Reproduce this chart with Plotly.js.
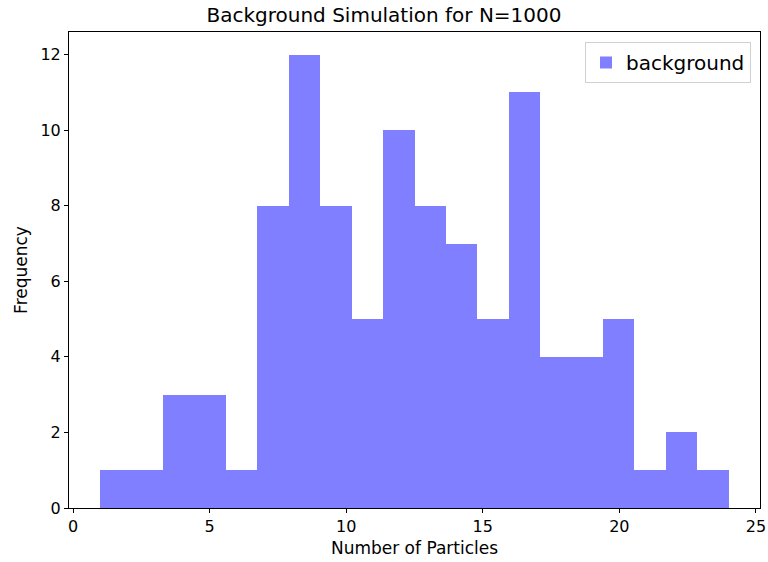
<!DOCTYPE html>
<html>
<head>
<meta charset="utf-8">
<script src="https://cdn.plot.ly/plotly-3.0.1.min.js"></script>
<style>html,body{margin:0;padding:0;background:#fff}#chart{width:768px;height:562px}</style>
</head>
<body>
<div id="chart"></div>
<script>
const binEdges = [1, 2.15, 3.3, 4.45, 5.6, 6.75, 7.9, 9.05, 10.2, 11.35, 12.5, 13.65, 14.8, 15.95, 17.1, 18.25, 19.4, 20.55, 21.7, 22.85, 24];
const counts = [1, 1, 3, 3, 1, 8, 12, 8, 5, 10, 8, 7, 5, 11, 4, 4, 5, 1, 2, 1];
const seriesName = "background";

const centers = counts.map((_, i) => (binEdges[i] + binEdges[i + 1]) / 2);
const widths = counts.map((_, i) => binEdges[i + 1] - binEdges[i]);

const font = "DejaVu Sans, sans-serif";
const trace = {
  type: "bar",
  x: centers,
  y: counts,
  width: widths,
  name: seriesName,
  showlegend: true,
  marker: { color: "rgba(0,0,255,0.5)", line: { color: "rgba(0,0,255,0.5)", width: 0 } },
  hoverinfo: "x+y"
};

const layout = {
  width: 768, height: 562,
  margin: { l: 69, r: 8, t: 32, b: 54 },
  paper_bgcolor: "#fff", plot_bgcolor: "#fff",
  font: { family: font, size: 16, color: "#000" },
  title: { text: "Background Simulation for N=1000", font: { family: font, size: 20, color: "#000" }, x: 0.5, xanchor: "center", y: 0.973, yanchor: "middle" },
  bargap: 0,
  xaxis: {
    range: [-0.15, 25.15], tickmode: "linear", tick0: 0, dtick: 5,
    showgrid: false, zeroline: false, showline: true, mirror: true, linecolor: "#000", linewidth: 1,
    ticks: "outside", ticklen: 4, tickwidth: 1, tickcolor: "#000",
    tickfont: { family: font, size: 16, color: "#000" },
    title: { text: "Number of Particles", font: { family: font, size: 17, color: "#000" }, standoff: 6 }
  },
  yaxis: {
    range: [0, 12.6], tickmode: "linear", tick0: 0, dtick: 2,
    showgrid: false, zeroline: false, showline: true, mirror: true, linecolor: "#000", linewidth: 1,
    ticks: "outside", ticklen: 4, tickwidth: 1, tickcolor: "#000",
    tickfont: { family: font, size: 16, color: "#000" },
    title: { text: "Frequency", font: { family: font, size: 17, color: "#000" }, standoff: 8 }
  },
  legend: {
    x: 0.987, y: 0.979, xanchor: "right", yanchor: "top",
    bgcolor: "rgba(255,255,255,0.8)", bordercolor: "#d0d0d0", borderwidth: 1,
    font: { family: font, size: 20, color: "#000" }
  }
};

Plotly.newPlot("chart", [trace], layout, { displayModeBar: false, staticPlot: true });
</script>
</body>
</html>
